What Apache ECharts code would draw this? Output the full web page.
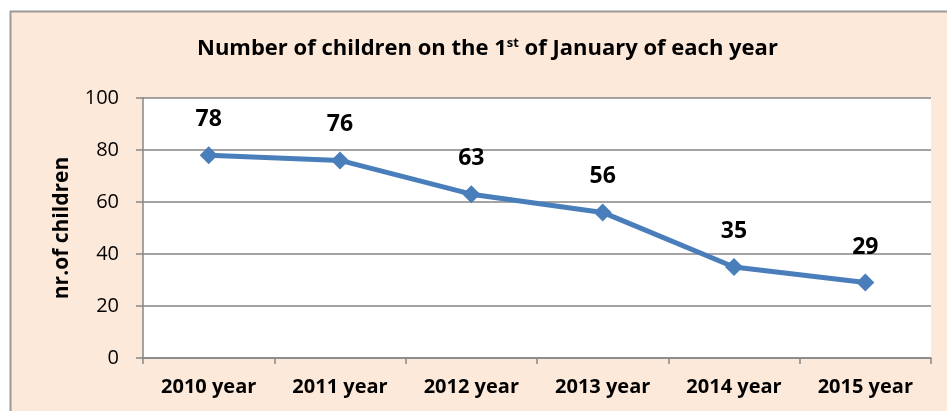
<!DOCTYPE html>
<html><head><meta charset="utf-8">
<script src="https://cdn.jsdelivr.net/npm/echarts@6/dist/echarts.min.js"></script>
<style>html,body{margin:0;padding:0;background:#fff}#c{width:947px;height:411px}</style>
</head><body><div id="c"></div>
<script>
const categories = ['2010 year','2011 year','2012 year','2013 year','2014 year','2015 year'];
const values = [78, 76, 63, 56, 35, 29];
const yTicks = [0, 20, 40, 60, 80, 100];
const FONT = '"Open Sans", sans-serif';
const chart = echarts.init(document.getElementById('c'), null, {renderer:'canvas'});
chart.setOption({
  animation:false,
  backgroundColor:'#fff',
  graphic:[{type:'rect', z:-10, shape:{x:10.5,y:11.5,width:1000,height:500}, style:{fill:'#FDE9D9', stroke:'#9a9a9a', lineWidth:2}}],
  title:{
    text:'Number of children on the 1{sup|st} of January of each year',
    left:192, top:32,
    textStyle:{fontFamily:FONT, fontSize:22, fontWeight:'bold', color:'#000',
      rich:{sup:{fontFamily:FONT, fontSize:13, fontWeight:'bold', color:'#000', verticalAlign:'top', padding:[0,0,10,0]}}}
  },
  grid:{left:143, right:16, top:98, bottom:53, show:true, backgroundColor:'#fff', borderWidth:0},
  xAxis:{type:'category', data:categories, boundaryGap:true,
    axisLine:{lineStyle:{color:'#868686', width:1.5}},
    axisTick:{show:true, length:6, lineStyle:{color:'#868686', width:1.5}},
    axisLabel:{fontFamily:FONT, fontSize:20, fontWeight:'bold', color:'#000', margin:19}},
  yAxis:{type:'value', min:0, max:100, interval:20,
    name:'nr.of children', nameLocation:'middle', nameGap:70, nameRotate:90,
    nameTextStyle:{fontFamily:FONT, fontSize:21, fontWeight:'bold', color:'#000'},
    axisLine:{show:true, lineStyle:{color:'#868686', width:1.5}},
    axisTick:{show:true, length:7, lineStyle:{color:'#868686', width:1.5}},
    splitLine:{lineStyle:{color:'#868686', width:1.5}},
    axisLabel:{fontFamily:FONT, fontSize:20, color:'#000', margin:24,
      formatter:(v)=> yTicks.includes(v) ? String(v) : ''}},
  series:[{type:'line', data:values, symbol:'diamond', symbolSize:18,
    lineStyle:{color:'#4A7EBB', width:5}, itemStyle:{color:'#4A7EBB'},
    label:{show:true, position:'top', distance:15, fontFamily:FONT, fontSize:23, fontWeight:'bold', color:'#000'}}]
});
</script></body></html>
